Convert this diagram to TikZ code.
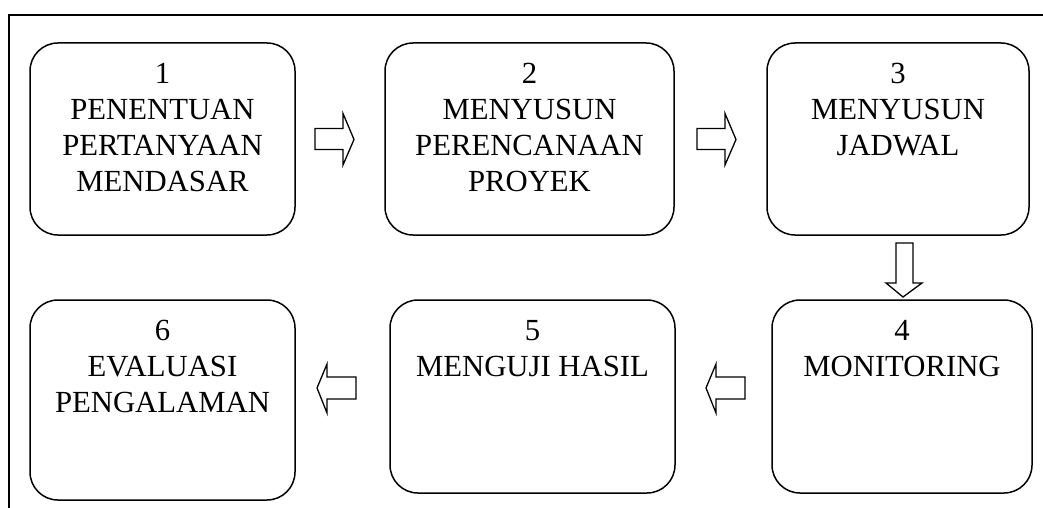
\documentclass[tikz,border=0pt]{standalone}
\usepackage{fontspec}
\setmainfont{Liberation Serif}
\begin{document}
\begin{tikzpicture}[x=1pt,y=-1pt,
  stagebox/.style={draw,line width=1.5pt,rounded corners=28pt,minimum width=#1,inner sep=0pt},
  stagetext/.style={anchor=north,align=center,inner sep=0pt,font=\fontsize{30.7}{36}\selectfont},
  blockarrow/.style={draw,line width=1.3pt,fill=white,line join=miter}]
\useasboundingbox (0,0) rectangle (1043,508);
% frame
\draw[line width=1.5pt] (1043,15) -- (9,15) -- (9,508);
% boxes
\node[stagebox=265pt,minimum height=192pt] (b1) at (162.5,139) {};
\node[stagebox=289pt,minimum height=192pt] (b2) at (529.5,139) {};
\node[stagebox=262pt,minimum height=192pt] (b3) at (898,139) {};
\node[stagebox=260pt,minimum height=193pt] (b4) at (902,396.5) {};
\node[stagebox=285pt,minimum height=193pt] (b5) at (532.5,396.5) {};
\node[stagebox=265pt,minimum height=200pt] (b6) at (162.5,400) {};
% texts
\node[stagetext] (t1) at ([yshift=-21pt]b1.north) {1\\PENENTUAN\\PERTANYAAN\\MENDASAR};
\node[stagetext] (t2) at ([yshift=-21pt]b2.north) {2\\MENYUSUN\\PERENCANAAN\\PROYEK};
\node[stagetext] (t3) at ([yshift=-21pt]b3.north) {3\\MENYUSUN\\JADWAL};
\node[stagetext] (t4) at ([yshift=-21pt]b4.north) {4\\MONITORING};
\node[stagetext] (t5) at ([yshift=-21pt]b5.north) {5\\MENGUJI HASIL};
\node[stagetext] (t6) at ([yshift=-21pt]b6.north) {6\\EVALUASI\\PENGALAMAN};
% block arrows
\draw[blockarrow] (315,128.5) -- (343,128.5) -- (343,113.5) -- (354,139.5) -- (343,165) -- (343,149.5) -- (315,149.5) -- cycle;
\draw[blockarrow] (697,128.5) -- (725,128.5) -- (725,113.5) -- (736,139.5) -- (725,165) -- (725,149.5) -- (697,149.5) -- cycle;
\draw[blockarrow] (896,243) -- (913,243) -- (913,283) -- (922,283) -- (903,297) -- (886,283) -- (896,283) -- cycle;
\draw[blockarrow] (745,377) -- (716,377) -- (716,364) -- (706,388) -- (716,413) -- (716,399) -- (745,399) -- cycle;
\draw[blockarrow] (356,377) -- (327,377) -- (327,364) -- (317,388) -- (327,413) -- (327,399) -- (356,399) -- cycle;
\end{tikzpicture}
\end{document}
